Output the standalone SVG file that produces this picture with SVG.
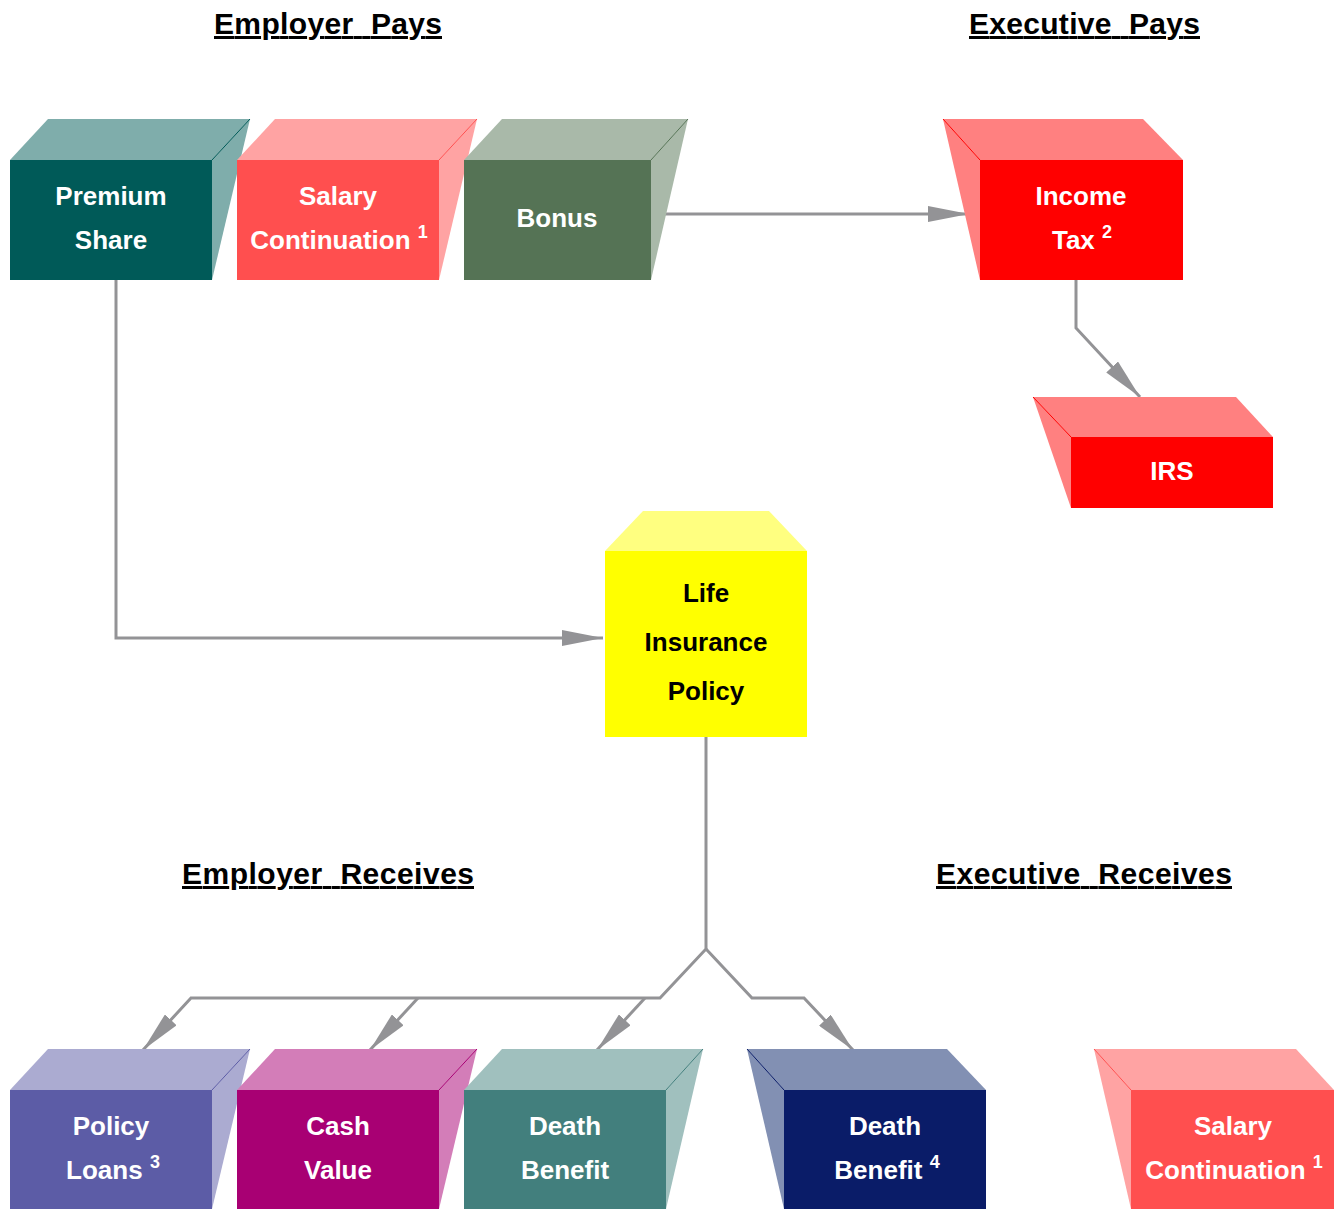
<svg xmlns="http://www.w3.org/2000/svg" width="1335" height="1209" viewBox="0 0 1335 1209">
<style>
  text { font-family: "Liberation Sans", Arial, sans-serif; font-weight: bold; }
  .title { font-size: 30px; fill: #000; text-decoration: underline; }
  .lbl { font-size: 26px; fill: #fff; text-anchor: middle; }
  .lbl-dark { font-size: 26px; fill: #000; text-anchor: middle; }
  .sup { font-size: 18px; }
  .conn { fill: none; stroke: #939396; stroke-width: 3; stroke-linejoin: miter; }
  .arrow { marker-end: url(#ah); }
  .edge { fill: none; stroke-width: 1; }
</style>
<defs>
  <marker id="ah" viewBox="0 0 41 16" refX="41" refY="8" markerWidth="41" markerHeight="16" markerUnits="userSpaceOnUse" orient="auto">
    <path d="M0,0 L41,8 L0,16 Z" fill="#939396"/>
  </marker>
</defs>
<rect width="1335" height="1209" fill="#fff"/>

<g id="titles">
  <text class="title" x="214" y="34" textLength="228" lengthAdjust="spacing" xml:space="preserve">Employer  Pays</text>
  <text class="title" x="969" y="34" textLength="231" lengthAdjust="spacing" xml:space="preserve">Executive  Pays</text>
  <text class="title" x="182" y="884" textLength="292" lengthAdjust="spacing" xml:space="preserve">Employer  Receives</text>
  <text class="title" x="936" y="884" textLength="296" lengthAdjust="spacing" xml:space="preserve">Executive  Receives</text>
</g>

<g id="connectors">
  <path class="conn arrow" d="M664,214 L969,214"/>
  <path class="conn arrow" d="M1076,280 L1076,328 L1140,397"/>
  <path class="conn arrow" d="M116,280 L116,638 L603,638"/>
  <path class="conn arrow" d="M706,737 L706,949 L660,998 L191,998 L143,1050"/>
  <path class="conn arrow" d="M418,998 L370,1050"/>
  <path class="conn arrow" d="M645,998 L597,1050"/>
  <path class="conn arrow" d="M706,949 L752,998 L804,998 L853,1050"/>
</g>

<g id="premium-share">
  <polygon points="10,160 48,119 250,119 212,160" fill="#7FADAB"/>
  <polygon points="212,160 250,119 212,280" fill="#7FADAB"/>
  <line class="edge" x1="212" y1="160" x2="250" y2="119" stroke="#005A58"/>
  <rect x="10" y="160" width="202" height="120" fill="#005A58"/>
  <text class="lbl" x="111" y="205">Premium</text>
  <text class="lbl" x="111" y="249">Share</text>
</g>

<g id="salary-continuation-top">
  <polygon points="237,160 275,119 477,119 439,160" fill="#FFA3A3"/>
  <polygon points="439,160 477,119 439,280" fill="#FFA3A3"/>
  <line class="edge" x1="439" y1="160" x2="477" y2="119" stroke="#FF4F4F"/>
  <rect x="237" y="160" width="202" height="120" fill="#FF4F4F"/>
  <text class="lbl" x="338" y="205">Salary</text>
  <text class="lbl" x="339" y="249">Continuation <tspan class="sup" dy="-11">1</tspan></text>
</g>

<g id="bonus">
  <polygon points="464,160 502,119 688,119 651,160" fill="#A9B9A9"/>
  <polygon points="651,160 688,119 651,280" fill="#A9B9A9"/>
  <line class="edge" x1="651" y1="160" x2="688" y2="119" stroke="#557355"/>
  <rect x="464" y="160" width="187" height="120" fill="#557355"/>
  <text class="lbl" x="557" y="227">Bonus</text>
</g>

<g id="income-tax">
  <polygon points="943,119 1143,119 1183,160 980,160" fill="#FF8080"/>
  <polygon points="943,119 980,160 980,280" fill="#FF8080"/>
  <line class="edge" x1="943" y1="119" x2="980" y2="160" stroke="#FF0000"/>
  <rect x="980" y="160" width="203" height="120" fill="#FF0000"/>
  <text class="lbl" x="1081" y="205">Income</text>
  <text class="lbl" x="1082" y="249">Tax <tspan class="sup" dy="-11">2</tspan></text>
</g>

<g id="irs">
  <polygon points="1033,397 1236,397 1273,437 1071,437" fill="#FF8080"/>
  <polygon points="1033,397 1071,437 1071,508" fill="#FF8080"/>
  <line class="edge" x1="1033" y1="397" x2="1071" y2="437" stroke="#FF0000"/>
  <rect x="1071" y="437" width="202" height="71" fill="#FF0000"/>
  <text class="lbl" x="1172" y="480">IRS</text>
</g>

<g id="life-insurance-policy">
  <polygon points="605,551 643,511 769,511 807,551" fill="#FFFF80"/>
  <rect x="605" y="551" width="202" height="186" fill="#FFFF00"/>
  <text class="lbl-dark" x="706" y="602">Life</text>
  <text class="lbl-dark" x="706" y="651">Insurance</text>
  <text class="lbl-dark" x="706" y="700">Policy</text>
</g>

<g id="policy-loans">
  <polygon points="10,1090 48,1049 250,1049 212,1090" fill="#ABABD1"/>
  <polygon points="212,1090 250,1049 212,1209" fill="#ABABD1"/>
  <line class="edge" x1="212" y1="1090" x2="250" y2="1049" stroke="#5C5CA6"/>
  <rect x="10" y="1090" width="202" height="119" fill="#5C5CA6"/>
  <text class="lbl" x="111" y="1135">Policy</text>
  <text class="lbl" x="113" y="1179">Loans <tspan class="sup" dy="-11">3</tspan></text>
</g>

<g id="cash-value">
  <polygon points="237,1090 275,1049 477,1049 439,1090" fill="#D37DB8"/>
  <polygon points="439,1090 477,1049 439,1209" fill="#D37DB8"/>
  <line class="edge" x1="439" y1="1090" x2="477" y2="1049" stroke="#A80073"/>
  <rect x="237" y="1090" width="202" height="119" fill="#A80073"/>
  <text class="lbl" x="338" y="1135">Cash</text>
  <text class="lbl" x="338" y="1179">Value</text>
</g>

<g id="death-benefit">
  <polygon points="464,1090 502,1049 703,1049 666,1090" fill="#A0C0BE"/>
  <polygon points="666,1090 703,1049 666,1209" fill="#A0C0BE"/>
  <line class="edge" x1="666" y1="1090" x2="703" y2="1049" stroke="#427F7D"/>
  <rect x="464" y="1090" width="202" height="119" fill="#427F7D"/>
  <text class="lbl" x="565" y="1135">Death</text>
  <text class="lbl" x="565" y="1179">Benefit</text>
</g>

<g id="death-benefit-executive">
  <polygon points="747,1049 947,1049 986,1090 784,1090" fill="#8290B3"/>
  <polygon points="747,1049 784,1090 784,1209" fill="#8290B3"/>
  <line class="edge" x1="747" y1="1049" x2="784" y2="1090" stroke="#0A1C68"/>
  <rect x="784" y="1090" width="202" height="119" fill="#0A1C68"/>
  <text class="lbl" x="885" y="1135">Death</text>
  <text class="lbl" x="887" y="1179">Benefit <tspan class="sup" dy="-11">4</tspan></text>
</g>

<g id="salary-continuation-bottom">
  <polygon points="1094,1049 1296,1049 1334,1090 1131,1090" fill="#FFA3A3"/>
  <polygon points="1094,1049 1131,1090 1131,1209" fill="#FFA3A3"/>
  <line class="edge" x1="1094" y1="1049" x2="1131" y2="1090" stroke="#FF4F4F"/>
  <rect x="1131" y="1090" width="203" height="119" fill="#FF4F4F"/>
  <text class="lbl" x="1233" y="1135">Salary</text>
  <text class="lbl" x="1234" y="1179">Continuation <tspan class="sup" dy="-11">1</tspan></text>
</g>
</svg>
